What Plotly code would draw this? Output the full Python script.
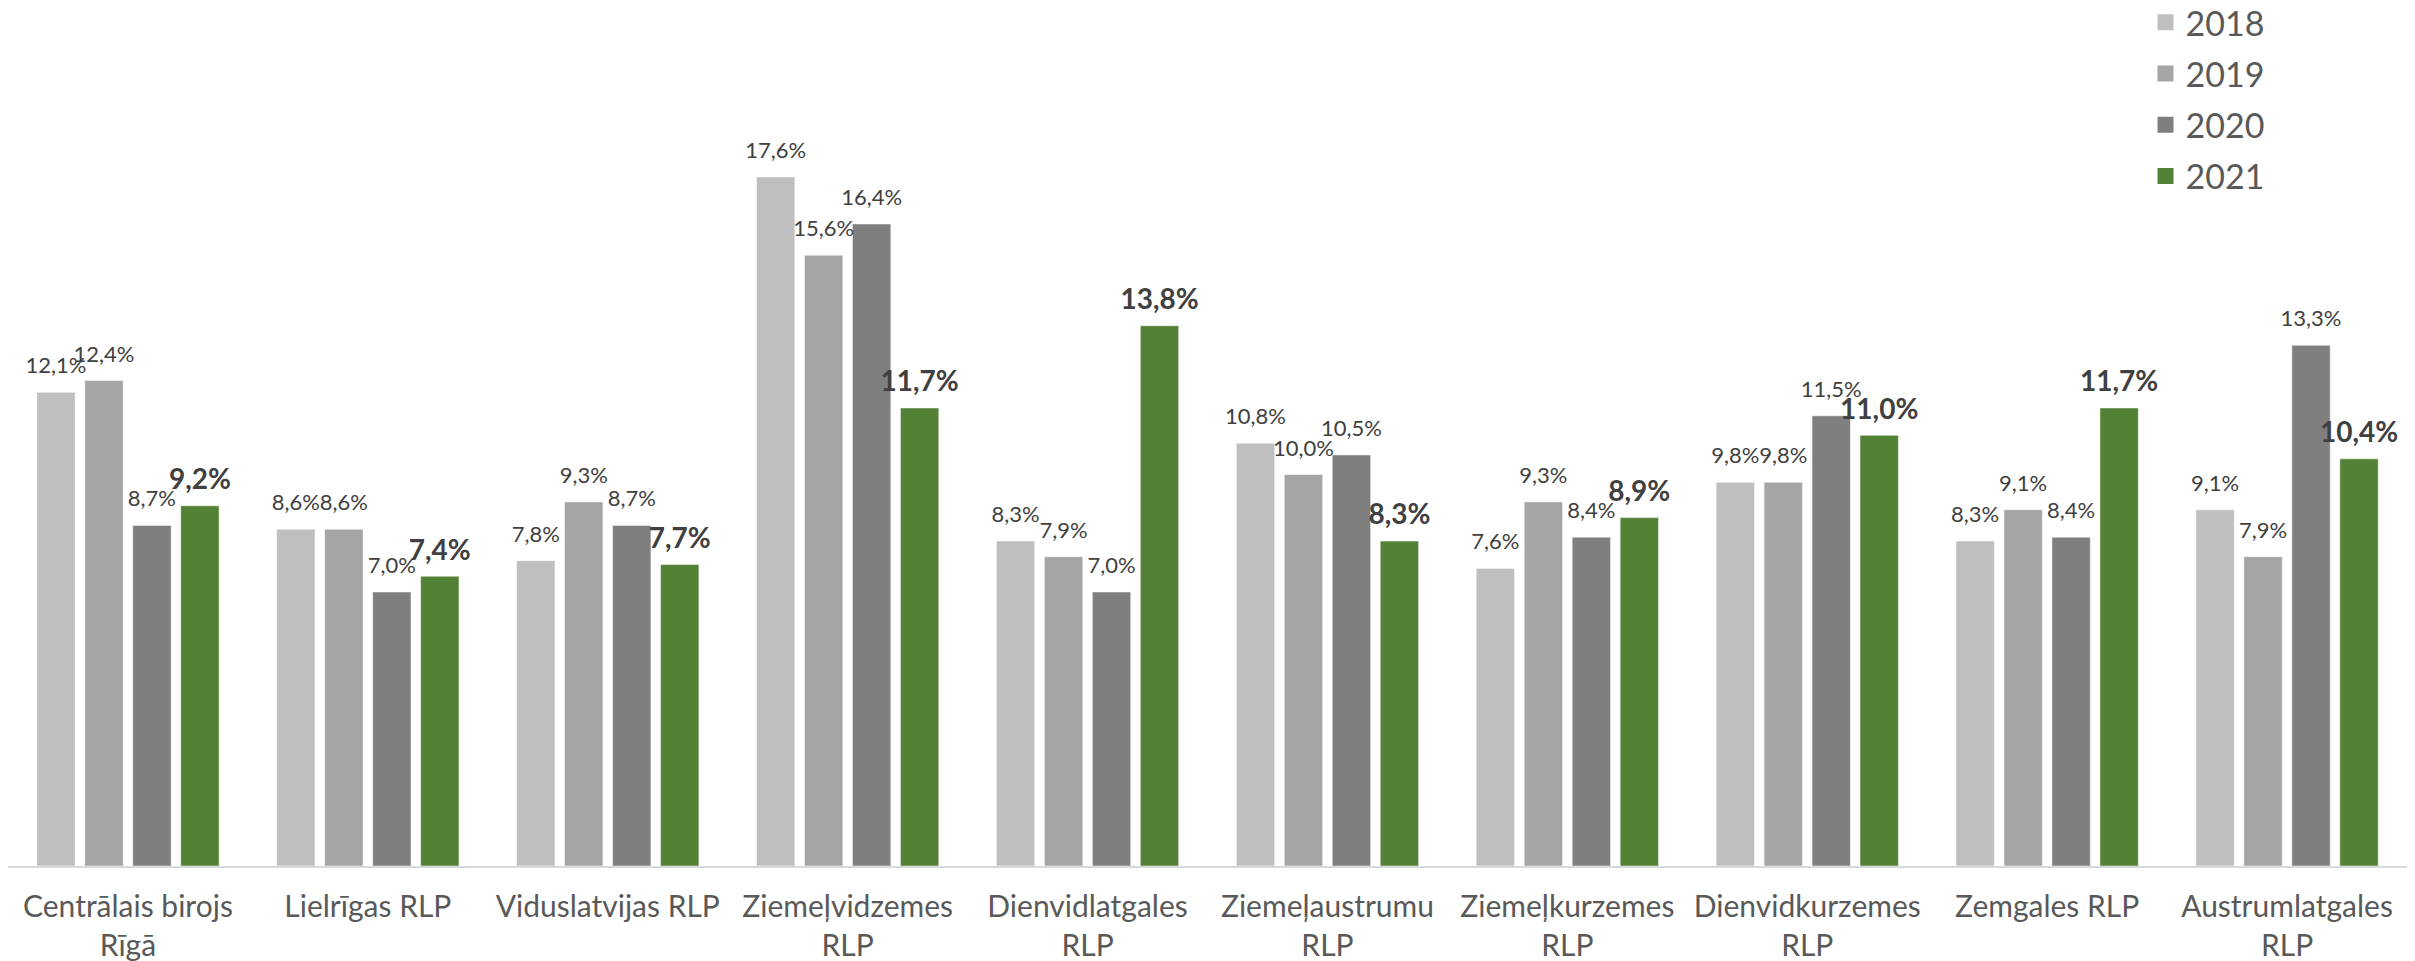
import plotly.graph_objects as go

categories = [
    "Centrālais birojs<br>Rīgā", "Lielrīgas RLP", "Viduslatvijas RLP",
    "Ziemeļvidzemes<br>RLP", "Dienvidlatgales<br>RLP", "Ziemeļaustrumu<br>RLP",
    "Ziemeļkurzemes<br>RLP", "Dienvidkurzemes<br>RLP", "Zemgales RLP",
    "Austrumlatgales<br>RLP",
]
years = ["2018", "2019", "2020", "2021"]
v2018 = [12.1, 8.6, 7.8, 17.6, 8.3, 10.8, 7.6, 9.8, 8.3, 9.1]
v2019 = [12.4, 8.6, 9.3, 15.6, 7.9, 10.0, 9.3, 9.8, 9.1, 7.9]
v2020 = [8.7, 7.0, 8.7, 16.4, 7.0, 10.5, 8.4, 11.5, 8.4, 13.3]
v2021 = [9.2, 7.4, 7.7, 11.7, 13.8, 8.3, 8.9, 11.0, 11.7, 10.4]
series = [v2018, v2019, v2020, v2021]
colors = ["#BFBFBF", "#A5A5A5", "#7F7F7F", "#538135"]

FONT = "Lato, 'Liberation Sans', sans-serif"

fig = go.Figure()
for i, (name, vals, col) in enumerate(zip(years, series, colors)):
    fig.add_trace(go.Bar(
        name=name, x=categories, y=vals, offsetgroup=name,
        marker=dict(color=col, line=dict(width=1, color="rgba(255,255,255,0.5)")),
        showlegend=False, hoverinfo="skip",
    ))

for i, (name, vals, col) in enumerate(zip(years, series, colors)):
    bold = i == 3
    fig.add_trace(go.Scatter(
        name=name, x=categories, y=vals, offsetgroup=name,
        mode="markers+text",
        marker=dict(size=14 if bold else 20, opacity=0, color=col),
        texttemplate="<b>%{y:.1f}%</b>" if bold else "%{y:.1f}%",
        textposition="top center",
        cliponaxis=False, showlegend=False,
        textfont=dict(family=FONT, size=28 if bold else 22, color="#404040"),
    ))

# legend entries
for name, col in zip(years, colors):
    fig.add_trace(go.Scatter(
        name=name, x=[None], y=[None], offsetgroup=name, mode="markers",
        legendgroup=name,
        marker=dict(symbol="square", size=16, color=col),
        showlegend=True,
    ))

fig.update_layout(
    width=2415, height=961,
    paper_bgcolor="white", plot_bgcolor="white",
    separators=", ",
    barmode="group", bargap=0.2, bargroupgap=0.2,
    scattermode="group", scattergap=0.2,
    margin=dict(l=0, r=16, t=75, b=103, autoexpand=False),
    font=dict(family=FONT, color="#595959"),
    showlegend=True,
    legend=dict(
        x=0.891, y=1.114, xanchor="left", yanchor="top",
        font=dict(family=FONT, size=34, color="#595959"),
        bgcolor="rgba(0,0,0,0)", tracegroupgap=4, itemsizing="trace",
    ),
    xaxis=dict(
        showline=True, linecolor="#D9D9D9", linewidth=2,
        ticks="", tickfont=dict(family=FONT, size=30, color="#595959"),
        ticklabelstandoff=13,
    ),
    yaxis=dict(range=[0, 20], visible=False, showgrid=False, zeroline=False),
)

fig.write_html("out.html")
